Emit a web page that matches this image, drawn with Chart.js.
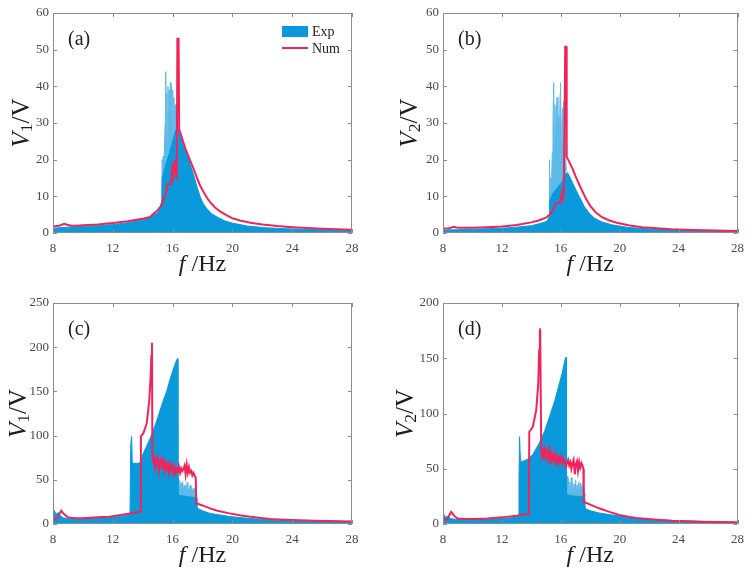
<!DOCTYPE html>
<html><head><meta charset="utf-8">
<script src="https://cdn.jsdelivr.net/npm/chart.js@4.4.1/dist/chart.umd.min.js"></script>
<style>
html,body{margin:0;padding:0;background:#fff;}
body{width:752px;height:573px;position:relative;overflow:hidden;}
canvas{position:absolute;}
</style></head>
<body>
<canvas id="ca" width="376" height="287" style="left:0;top:0"></canvas>
<canvas id="cb" width="376" height="287" style="left:376px;top:0"></canvas>
<canvas id="cc" width="376" height="286" style="left:0;top:287px"></canvas>
<canvas id="cd" width="376" height="286" style="left:376px;top:287px"></canvas>
<script>
// ---------------- data ----------------
const xTicks = [8, 12, 16, 20, 24, 28];
const seriesNames = ['Exp', 'Num'];
const panelLabels = ['(a)', '(b)', '(c)', '(d)'];

// (a) V1, first excitation level
const numA_f = [8,8.4,8.75,8.9,9.2,9.6,10,11,12,13,14,14.5,15,15.2,15.4,15.5,15.58,15.62,15.92,15.96,16.0,16.06,16.12,16.18,16.24,16.28,16.32,16.4,16.44,16.5,16.7,16.9,17.15,17.4,17.6,17.8,18.05,18.3,18.5,18.8,19.2,19.6,20,20.5,21.2,22,23,24,25,26,27,28];
const numA_v = [1.8,2.0,2.5,2.3,2.0,2.0,2.1,2.3,2.7,3.2,3.9,4.4,6.2,7.3,9.2,10.2,11.5,13.3,13.4,17,19,16,18,20,15,17,53,53,28.3,27.5,25,22.5,20,17.5,15.4,13.3,11.3,9.6,8.5,7.1,5.8,4.9,4.0,3.4,2.8,2.3,1.9,1.6,1.35,1.15,1.0,0.9];
const expA_f = [8,9,10,11,12,13,14,14.5,15,15.2,15.28,15.3,15.5,15.8,16.0,16.2,16.4,16.5,16.7,16.95,17.15,17.4,17.6,17.85,18.05,18.3,18.6,19,19.5,20,21,22.3,24,26,28];
const expA_v = [1.3,1.6,1.8,2.0,2.3,2.8,3.6,4.3,5.5,7,8,15,18,22,25,28,28.5,27,24.5,21.5,19,16,13,9.8,8,6.6,5.3,4.3,3.3,2.7,1.9,1.4,1.1,0.9,0.7];
const envA_f = [15.28,15.3,15.34,15.38,15.42,15.46,15.5,15.54,15.57,15.61,15.65,15.69,15.73,15.77,15.81,15.85,15.89,15.93,15.97,16.01,16.05,16.09,16.13,16.17,16.21,16.25,16.29,16.33,16.4];
const envA_v = [7,20,18,21,19,24,30,44,26,38,24,40,27,39,25,41,28,40,30,39,27,37,29,35,28,33,29,30,28.5];

// (b) V2, first excitation level
const numB_f = [8,8.4,8.75,8.9,9.2,10,11,12,13,14,14.5,15,15.3,15.5,15.58,15.62,15.95,16.02,16.08,16.13,16.2,16.25,16.3,16.37,16.4,16.5,16.8,17.0,17.3,17.7,18.0,18.4,18.8,19.3,19.8,20.6,21.5,22.5,23.5,25,26.5,28];
const numB_v = [1.2,1.3,1.7,1.5,1.4,1.45,1.6,1.8,2.2,2.9,3.4,4.2,5.2,6.5,7.2,8.1,8.2,10,11.8,9.5,11,30,50.8,50.8,20.8,20,17.5,15.5,12.8,9.4,7.4,5.5,4.3,3.4,2.8,2.1,1.6,1.3,1.0,0.8,0.65,0.55];
const expB_f = [8,9,10,11,12,13,14,14.5,15,15.15,15.2,15.25,15.5,15.8,16.1,16.3,16.45,16.6,16.9,17.26,17.6,17.93,18.3,18.8,19.5,20.6,22,24,26,28];
const expB_v = [0.8,0.9,1.0,1.15,1.3,1.6,2.0,2.5,3.1,3.8,4.5,9,11,12.5,14,16,16.5,15.4,12.8,9.9,7.2,5.4,4.0,3.0,2.2,1.5,1.1,0.8,0.6,0.5];
const envB_f = [15.2,15.23,15.27,15.32,15.37,15.42,15.47,15.52,15.55,15.6,15.65,15.7,15.75,15.8,15.85,15.9,15.95,15.98,16.03,16.08,16.12,16.16,16.2,16.24,16.28,16.33,16.38];
const envB_v = [5,20,11,15,13,22,30,41,24,35,26,33,37,23,32,26,38,41,25,30,34,24,36,27,42,20,17];

// (c) V1, second excitation level
const numC_f = [8,8.3,8.55,8.75,9.0,9.5,10,11,11.8,13.15,13.5,13.85,13.88,14.05,14.27,14.44,14.53,14.58,14.62,14.65,14.72,14.78,14.85,14.93,15.0,15.08,15.15,15.22,15.3,15.38,15.45,15.52,15.6,15.68,15.75,15.83,15.9,15.97,16.05,16.12,16.2,16.27,16.35,16.42,16.5,16.57,16.65,16.72,16.8,16.87,16.95,17.02,17.1,17.17,17.25,17.32,17.4,17.47,17.55,17.58,18,18.5,19,19.8,20.5,21.2,22.5,23.5,24.5,25.5,26.5,28];
const numC_v = [5,7,15,11,7.5,6.5,6.5,7.5,8.3,12,13,14,99,103,114,140,167,190,205,76,70,74,64,72,76,60,70,73,65,71,61,69,62,67,58,68,62,66,58,64,57,62,59,65,58,63,60,62,66,56,67,58,64,58,60,55,58,55,52,23.4,21,17.7,15,12,10,8.3,5.7,4.8,4.2,3.7,3.3,2.9];
const expC_f = [8,8.05,8.2,8.35,8.5,8.7,9,10,11,12,12.5,13,13.15,13.2,13.26,13.3,13.4,13.6,13.8,14.04,14.5,14.71,15.0,15.38,15.6,15.94,16.27,16.33,16.36,16.6,17.0,17.4,17.6,17.63,18,18.5,19.8,21,22.5,24,26,28];
const expC_v = [8,16,11,13,9,7,6,6,6.5,7.5,8.5,10,11,90,99,70,68.6,68.6,69,80,97,106,120,140,150,170,185.5,187,33,32,31,30,29,18,15,12,8.5,6.5,4.5,3.6,2.8,2.3];
const envC_f = [16.36,16.4,16.44,16.48,16.52,16.57,16.62,16.67,16.72,16.77,16.82,16.87,16.92,16.97,17.02,17.07,17.12,17.17,17.22,17.27,17.32,17.37,17.42,17.47,17.52,17.57,17.6];
const envC_v = [45,52,38,49,36,46,34,48,36,44,33,43,35,47,32,40,36,44,31,42,34,40,32,41,36,30,27];

// (d) V2, second excitation level
const numD_f = [8,8.3,8.55,8.75,9.0,9.5,10,11,12,13,13.5,13.83,13.86,14.1,14.33,14.47,14.53,14.58,14.6,14.67,14.72,14.8,14.87,14.93,15.0,15.07,15.15,15.22,15.3,15.37,15.45,15.52,15.6,15.67,15.75,15.82,15.9,15.97,16.05,16.12,16.2,16.27,16.35,16.42,16.5,16.57,16.65,16.72,16.8,16.87,16.95,17.02,17.1,17.17,17.25,17.32,17.4,17.47,17.53,17.56,18,18.6,19.3,19.96,20.6,21.3,22.5,23.5,24.5,25.5,26.5,28];
const numD_v = [3.5,4.5,11,7.5,5,4.5,4.5,5,6,7.5,8.5,9,83.5,88,103,127,157,172,177,67,62,66,58,68,65,60,67,59,65,57,62,58,63,56,61,55,60,57,61,55,58,56,52,55,58,53,56,50,55,58,45,54,57,48,56,51,55,53,50,20,17.5,14.2,11,8.1,6.5,5.1,3.8,3.0,2.5,2.1,1.8,1.5];
const expD_f = [8,8.05,8.15,8.3,8.5,8.7,9,10,11,12,12.5,13,13.14,13.16,13.2,13.26,13.5,13.8,14.1,14.53,14.9,15.23,15.6,15.9,16.1,16.31,16.36,16.39,16.6,17.0,17.4,17.63,17.66,18,18.6,19.3,20,21,22,24,26,28];
const expD_v = [5,9,6,7,5,4.5,4,4,4.3,5,5.5,6.5,7,40,79,56.4,57,59,63,73,84,97,112,127,137,150,151,27,26,25,25,24,14,12,10,8.5,7,5.5,4.3,3,2.2,1.5];
const envD_f = [16.39,16.43,16.47,16.51,16.56,16.61,16.66,16.71,16.76,16.81,16.86,16.91,16.96,17.01,17.06,17.11,17.16,17.21,17.26,17.31,17.36,17.41,17.46,17.51,17.56,17.61,17.64];
const envD_v = [38,43,30,41,29,38,28,42,30,37,27,36,29,40,27,35,30,38,27,37,29,34,27,36,30,28,25];

// ---------------- drawing ----------------
const BLUE = '#0A9ADC', LIGHT = '#5DB9E8', RED = '#F1245A';
const FONT = '"Liberation Serif", "Times New Roman", serif';
const pts = (f, v) => f.map((x, i) => ({x: x, y: v[i]}));

function partsWidth(ctx, parts, size) {
  let w = 0;
  parts.forEach(p => {
    const s = p.sub ? size * 0.7 : size;
    ctx.font = (p.it ? 'italic ' : '') + s + 'px ' + FONT;
    w += ctx.measureText(p.t).width;
  });
  return w;
}
function drawParts(ctx, parts, x, y, size) {
  parts.forEach(p => {
    const s = p.sub ? size * 0.7 : size;
    ctx.font = (p.it ? 'italic ' : '') + s + 'px ' + FONT;
    ctx.fillText(p.t, x, y + (p.sub ? size * 0.12 : 0));
    x += ctx.measureText(p.t).width;
  });
}

function makePlugin(cfg) {
  return {
    id: 'decor',
    afterDatasetsDraw(chart) {
      const {ctx, chartArea: a, scales: {x, y}} = chart;
      ctx.save();
      ctx.strokeStyle = '#8c8c8c';
      ctx.lineWidth = 1;
      const L = 4;
      ctx.beginPath();
      ctx.rect(Math.round(a.left) + 0.5, Math.round(a.top) + 0.5, Math.round(a.width) - 1, Math.round(a.height) - 1);
      x.ticks.forEach(t => {
        const px = Math.round(x.getPixelForValue(t.value)) + 0.5;
        ctx.moveTo(px, a.bottom); ctx.lineTo(px, a.bottom - L);
        ctx.moveTo(px, a.top); ctx.lineTo(px, a.top + L);
      });
      y.ticks.forEach(t => {
        const py = Math.round(y.getPixelForValue(t.value)) + 0.5;
        ctx.moveTo(a.left, py); ctx.lineTo(a.left + L, py);
        ctx.moveTo(a.right, py); ctx.lineTo(a.right - L, py);
      });
      ctx.stroke();
      ctx.restore();
    },
    afterDraw(chart) {
      const {ctx, chartArea: a} = chart;
      ctx.save();
      ctx.fillStyle = '#1e1e1e';
      ctx.textBaseline = 'alphabetic';
      ctx.textAlign = 'left';
      // x title
      const xs = 24;
      const xParts = [{t: 'f', it: true}, {t: ' /Hz'}];
      const xw = partsWidth(ctx, xParts, xs);
      drawParts(ctx, xParts, (a.left + a.right) / 2 - xw / 2, a.bottom + 38, xs);
      // y title (rotated)
      const ys = 25;
      const yParts = [{t: 'V', it: true}, {t: cfg.sub, sub: true}, {t: '/V'}];
      const yw = partsWidth(ctx, yParts, ys);
      ctx.save();
      ctx.translate(a.left + cfg.yTitleDx, (a.top + a.bottom) / 2);
      ctx.rotate(-Math.PI / 2);
      drawParts(ctx, yParts, -yw / 2, ys * 0.33, ys);
      ctx.restore();
      // panel label
      ctx.font = '20px ' + FONT;
      ctx.fillText(cfg.label, a.left + 15, a.top + 32);
      // legend (panel a only)
      if (cfg.legend) {
        const lx = a.right - 70;
        ctx.fillStyle = BLUE;
        ctx.fillRect(lx, a.top + 13, 26, 11);
        ctx.strokeStyle = RED;
        ctx.lineWidth = 2;
        ctx.beginPath();
        ctx.moveTo(lx, a.top + 35); ctx.lineTo(lx + 26, a.top + 35);
        ctx.stroke();
        ctx.fillStyle = '#1e1e1e';
        ctx.font = '14px ' + FONT;
        ctx.fillText(seriesNames[0], lx + 30, a.top + 23);
        ctx.fillText(seriesNames[1], lx + 30, a.top + 40);
      }
      ctx.restore();
    }
  };
}

function makeChart(id, cfg) {
  return new Chart(document.getElementById(id), {
    type: 'line',
    data: {
      datasets: [
        {label: seriesNames[1], data: pts(cfg.numF, cfg.numV), borderColor: RED, borderWidth: 2, pointRadius: 0, fill: false, tension: 0},
        {label: seriesNames[0], data: pts(cfg.expF, cfg.expV), borderColor: BLUE, backgroundColor: BLUE, borderWidth: 1, pointRadius: 0, fill: 'origin', tension: 0},
        {label: seriesNames[0] + ' envelope', data: pts(cfg.envF, cfg.envV), borderColor: LIGHT, backgroundColor: LIGHT, borderWidth: 1, pointRadius: 0, fill: 'origin', tension: 0}
      ]
    },
    options: {
      responsive: false,
      animation: false,
      devicePixelRatio: 1,
      events: [],
      layout: {padding: {left: 0, right: cfg.padR, top: cfg.padT, bottom: 0}},
      plugins: {legend: {display: false}, tooltip: {enabled: false}, title: {display: false}},
      scales: {
        x: {
          type: 'linear', min: 8, max: 28,
          afterBuildTicks: s => { s.ticks = xTicks.map(v => ({value: v})); },
          afterFit: s => { s.height = cfg.xH; },
          grid: {display: false, drawTicks: false},
          border: {display: false},
          ticks: {padding: 8, color: '#4a4a4a', font: {family: FONT, size: 13}, maxRotation: 0}
        },
        y: {
          type: 'linear', min: 0, max: cfg.yMax,
          ticks: {stepSize: cfg.yStep, padding: 4, color: '#4a4a4a', font: {family: FONT, size: 13}},
          afterFit: s => { s.width = cfg.yW; },
          grid: {display: false, drawTicks: false},
          border: {display: false}
        }
      }
    },
    plugins: [makePlugin(cfg)]
  });
}

makeChart('ca', {numF: numA_f, numV: numA_v, expF: expA_f, expV: expA_v, envF: envA_f, envV: envA_v,
  yMax: 60, yStep: 10, yW: 53, padR: 24, padT: 13, xH: 54, sub: '1', label: panelLabels[0], legend: true, yTitleDx: -32});
makeChart('cb', {numF: numB_f, numV: numB_v, expF: expB_f, expV: expB_v, envF: envB_f, envV: envB_v,
  yMax: 60, yStep: 10, yW: 67, padR: 13, padT: 13, xH: 54, sub: '2', label: panelLabels[1], yTitleDx: -34});
makeChart('cc', {numF: numC_f, numV: numC_v, expF: expC_f, expV: expC_v, envF: envC_f, envV: envC_v,
  yMax: 250, yStep: 50, yW: 53, padR: 24, padT: 16, xH: 49, sub: '1', label: panelLabels[2], yTitleDx: -35});
makeChart('cd', {numF: numD_f, numV: numD_v, expF: expD_f, expV: expD_v, envF: envD_f, envV: envD_v,
  yMax: 200, yStep: 50, yW: 67, padR: 13, padT: 16, xH: 49, sub: '2', label: panelLabels[3], yTitleDx: -38});
</script>
</body></html>
